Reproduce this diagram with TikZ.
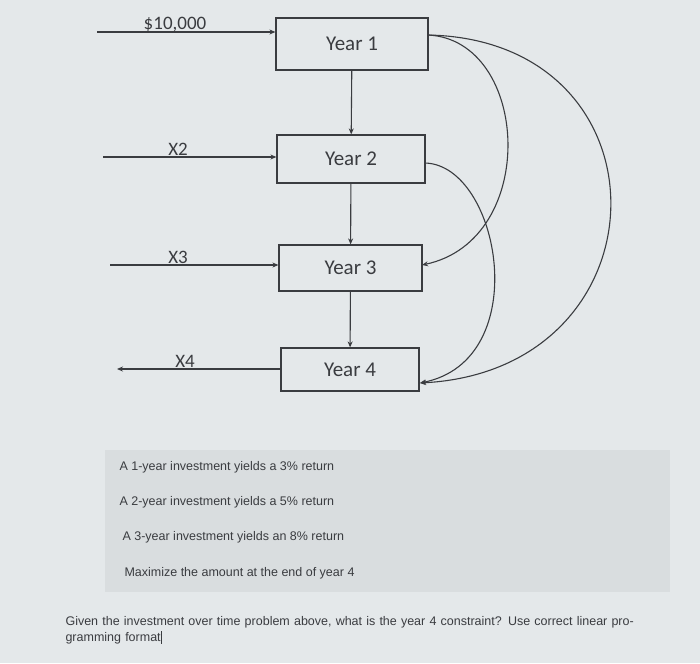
\documentclass[tikz,border=0pt]{standalone}
\usepackage{fontspec}
\setmainfont{Liberation Sans}
\newfontfamily\carlitofont{Carlito}
\usetikzlibrary{arrows.meta}
\definecolor{bg}{HTML}{E4E8EA}
\definecolor{panel}{HTML}{D9DDDF}
\definecolor{ink}{HTML}{3A3C40}
\begin{document}
\begin{tikzpicture}[x=1pt,y=-1pt,
  yearbox/.style={draw=ink,line width=1.2pt,minimum width=#1,inner sep=0pt,font=\carlitofont\fontsize{21}{24}\selectfont,text=ink},
  conn/.style={draw=ink,line width=1.1pt,-{Stealth[length=6pt,width=5pt]}},
  lbl/.style={font=\carlitofont\fontsize{19}{22}\selectfont,text=ink},
  small/.style={font=\fontsize{12.5}{14}\selectfont,text=ink,anchor=west}]
\fill[bg] (0,0) rectangle (700,663);
\useasboundingbox (0,0) rectangle (700,663);
\node[yearbox=152pt,minimum height=52pt] (y1) at (352,44) {Year 1};
\node[yearbox=148pt,minimum height=48pt] (y2) at (351,159) {Year 2};
\node[yearbox=143pt,minimum height=46pt] (y3) at (350.5,268) {Year 3};
\node[yearbox=138pt,minimum height=43pt] (y4) at (350,369.5) {Year 4};
\draw[conn] (y1) -- (y2);
\draw[conn] (y2) -- (y3);
\draw[conn] (y3) -- (y4);
\coordinate (a1) at (97,32); \coordinate (a2) at (103,157);
\coordinate (a3) at (110,265); \coordinate (a4) at (117,369);
\draw[conn] (a1) -- (y1.west |- a1);
\draw[conn] (a2) -- (y2.west |- a2);
\draw[conn] (a3) -- (y3.west |- a3);
\draw[conn] (y4.west |- a4) -- (a4);
\node[lbl,anchor=base] (l1) at (175,30) {\$10,000};
\node[lbl,anchor=base] (l2) at (178,155) {X2};
\node[lbl,anchor=base] (l3) at (178,263) {X3};
\node[lbl,anchor=base] (l4) at (185,367) {X4};
\coordinate (s1) at (428,35); \coordinate (e3) at (422,265);
\coordinate (s2) at (425,163); \coordinate (e4) at (420,383);
\draw[conn] (s1) .. controls (530,40) and (540,240) .. (e3);
\draw[conn] (s1) .. controls (675,40) and (670,370) .. (e4);
\draw[conn] (s2) .. controls (500,165) and (535,360) .. (e4);
\fill[panel] (105,450) rectangle (670,592);
\node[small] (t1) at (116,467) {A 1-year investment yields a 3\% return};
\node[small] (t2) at (116,502) {A 2-year investment yields a 5\% return};
\node[small] (t3) at (119,537) {A 3-year investment yields an 8\% return};
\node[small] (t4) at (121,573) {Maximize the amount at the end of year 4};
\node[small,anchor=north west,text width=590pt,font=\fontsize{12.5}{16}\selectfont] (q) at (62,613) {Given the investment over time problem above, what is the year 4 constraint? Use correct linear programming format\rule[-2pt]{1pt}{13pt}};
\end{tikzpicture}
\end{document}
